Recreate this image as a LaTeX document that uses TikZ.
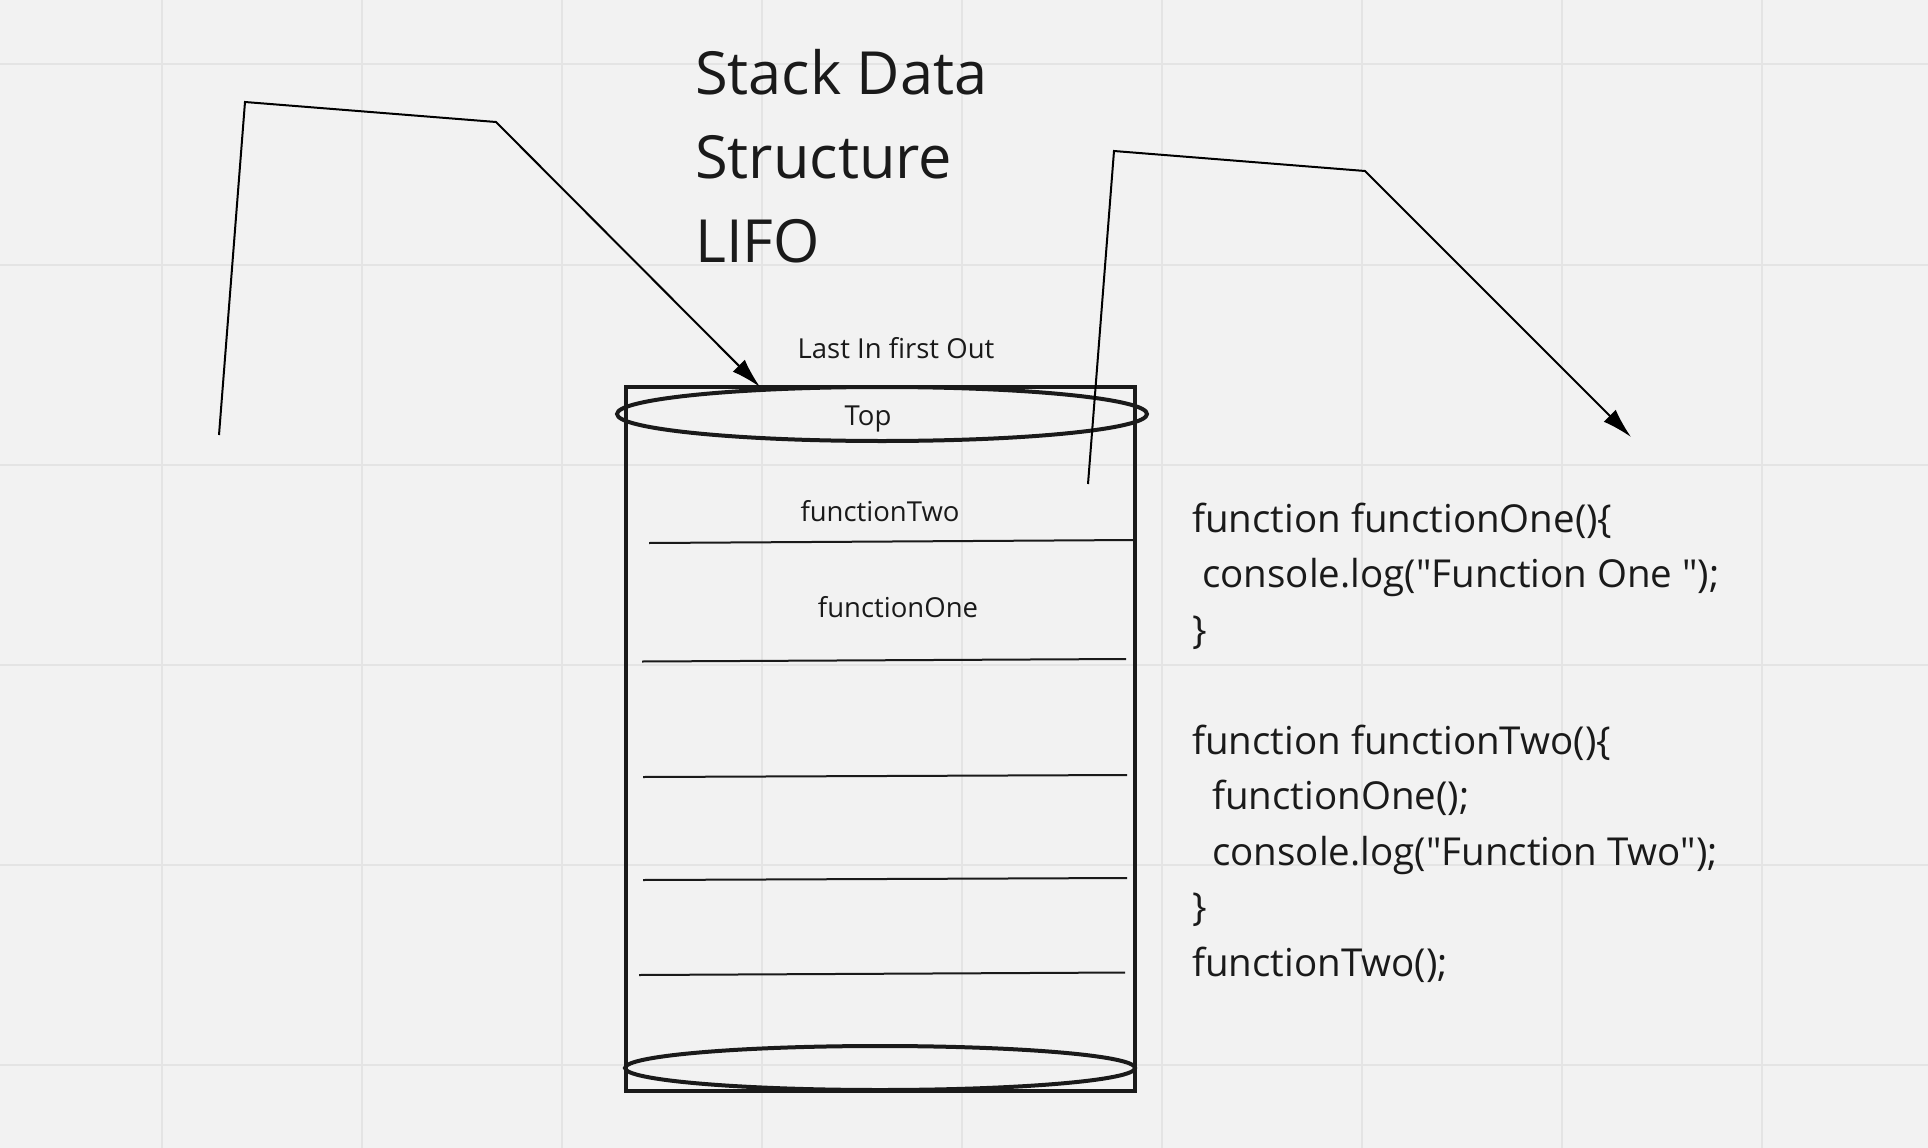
\documentclass[tikz,border=0pt]{standalone}
\usepackage{fontspec}
\setmainfont{Open Sans}
\newfontfamily\codefont{Open Sans}
\usetikzlibrary{arrows.meta}
\definecolor{paper}{HTML}{F2F2F2}
\definecolor{gridgray}{HTML}{E4E4E4}
\definecolor{ink}{HTML}{1A1A1A}
\tikzset{
  gridline/.style={draw=gridgray, line width=2pt},
  sketch/.style={draw=black, line width=2pt},
  label/.style={text=ink, inner sep=0pt, font=\fontsize{27.5}{33}\selectfont},
  codeline/.style={text=ink, inner sep=0pt, anchor=base west, font=\codefont\fontsize{38.5}{55.5}\selectfont},
}
\begin{document}
\begin{tikzpicture}[x=1pt, y=-1pt]
\fill [paper] (0,0) rectangle (1928,1148);
\useasboundingbox (0,0) rectangle (1928,1148);
% grid
\foreach \x in {162,362,...,1762}{
  \draw [gridline] (\x,0) -- (\x,1148);
}
\foreach \y in {64.5,264.5,...,1064.5}{
  \draw [gridline] (0,\y) -- (1928,\y);
}
% title
\foreach \t [count=\i] in {Stack Data,Structure,LIFO}{
  \node (title\i) [text=ink, inner sep=0pt, anchor=base west,
    font=\fontsize{59.5}{84}\selectfont] at (695,{94+84*(\i-1)}) {\t};
}
% stack
\draw [draw=ink, line width=3.5pt] (626,387) rectangle (1135,1091);
\draw [draw=ink, line width=4pt] (882,414) ellipse [x radius=265, y radius=27];
\draw [draw=ink, line width=4pt] (880,1068) ellipse [x radius=255, y radius=22];
\foreach \xa/\ya/\xb/\yb in {649/543/1134/540, 642/661.5/1126/659, 643/777/1127/775,
                             643/880/1127/878, 639/975/1125/972.5}{
  \draw [draw=ink, line width=2pt] (\xa,\ya) -- (\xb,\yb);
}
\node (lifo) [label, anchor=base] at (896,358) {Last In first Out};
\node (top) [label, anchor=base] at (868,425) {Top};
\node (two) [label, anchor=base] at (880,521) {functionTwo};
\node (one) [label, anchor=base] at (898,617) {functionOne};
% push and pop
\coordinate (pushA) at (219,435);
\coordinate (pushB) at (245,102);
\coordinate (pushC) at (496,122);
\coordinate (pushD) at (760,387);
\draw [sketch, -{Latex[length=30pt,width=17pt]}] (pushA) -- (pushB) -- (pushC) -- (pushD);
\coordinate (popA) at (1088,484);
\coordinate (popB) at (1114,151);
\coordinate (popC) at (1365,171);
\coordinate (popD) at (1631,437);
\draw [sketch, -{Latex[length=30pt,width=17pt]}] (popA) -- (popB) -- (popC) -- (popD);
% code
\foreach \c [count=\i] in {function functionOne()\{,
    \ console.log("Function One ");,
    \},
    {},
    function functionTwo()\{,
    \ \ functionOne();,
    \ \ console.log("Function Two");,
    \},
    functionTwo();}{
  \node (code\i) [codeline] at (1192,{532+55.5*(\i-1)}) {\c};
}
\end{tikzpicture}
\end{document}
